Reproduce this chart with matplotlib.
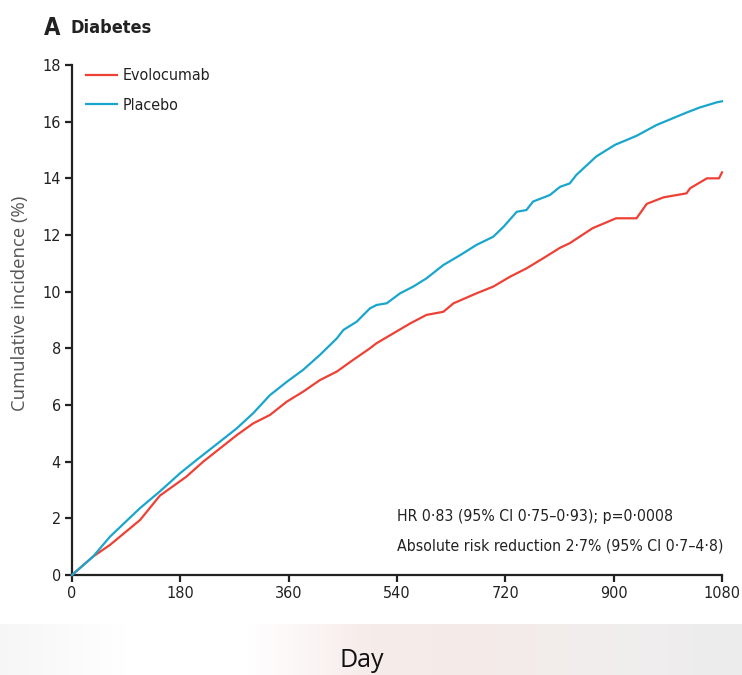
import matplotlib
matplotlib.use("Agg")
import matplotlib.pyplot as plt
import numpy as np
from matplotlib import font_manager as fm
from matplotlib.colors import LinearSegmentedColormap

# readings taken off the published curves (day, cumulative incidence %)
PLACEBO_DAY = [0, 35, 63, 113, 146, 180, 207, 246, 274, 301, 329, 357, 384,
               412, 440, 451, 473, 495, 506, 523, 545, 567, 589, 617, 645,
               672, 700, 717, 739, 755, 766, 794, 811, 827, 838, 871, 902,
               938, 971, 1021, 1043, 1071, 1080]
PLACEBO_PCT = [0, 0.65, 1.35, 2.36, 2.95, 3.6, 4.06, 4.71, 5.18, 5.71, 6.35,
               6.82, 7.24, 7.77, 8.35, 8.65, 8.94, 9.41, 9.53, 9.59, 9.94,
               10.18, 10.47, 10.94, 11.29, 11.65, 11.94, 12.29, 12.82, 12.88,
               13.18, 13.41, 13.7, 13.82, 14.12, 14.77, 15.18, 15.5, 15.88,
               16.32, 16.5, 16.68, 16.72]

EVO_DAY = [0, 35, 63, 113, 146, 190, 218, 246, 274, 301, 329, 357, 384, 412,
           440, 467, 495, 506, 534, 562, 589, 617, 634, 672, 700, 728, 755,
           783, 811, 827, 865, 904, 938, 955, 983, 1021, 1027, 1055, 1075,
           1080]
EVO_PCT = [0, 0.65, 1.06, 1.94, 2.8, 3.47, 4.0, 4.47, 4.94, 5.35, 5.65, 6.12,
           6.47, 6.88, 7.18, 7.59, 8.0, 8.18, 8.53, 8.88, 9.18, 9.29, 9.59,
           9.94, 10.18, 10.53, 10.82, 11.18, 11.55, 11.71, 12.24, 12.59,
           12.59, 13.1, 13.33, 13.47, 13.65, 14.0, 14.0, 14.21]

X_TICKS = [0, 180, 360, 540, 720, 900, 1080]
Y_TICKS = [0, 2, 4, 6, 8, 10, 12, 14, 16, 18]

# a narrow face if one happens to be installed, else plain Roboto
NARROW_NAME, NARROW_STRETCH = "Roboto", "normal"
for f in fm.fontManager.ttflist:
    if ("Narrow" in f.name or "Condensed" in f.name
            or f.stretch in ("condensed", "semi-condensed")) \
            and f.style == "normal":
        NARROW_NAME, NARROW_STRETCH = f.name, f.stretch
        break


def fp(size, weight="normal"):
    return fm.FontProperties(family=[NARROW_NAME, "DejaVu Sans"],
                             stretch=NARROW_STRETCH, weight=weight, size=size)


RED = "#ee4136"
BLUE = "#1aa6cc"
INK = "#222222"

fig = plt.figure(figsize=(7.42, 6.75), dpi=100)

# faded background strip at the bottom of the slide
bg = fig.add_axes([0, 0, 1, 51 / 675])
strip = LinearSegmentedColormap.from_list(
    "strip", ["#f6f6f6", "#ffffff", "#ffffff", "#f6ecea", "#f4ebe9",
              "#f1eeee", "#ececec"])
bg.imshow(np.linspace(0, 1, 256)[None, :], aspect="auto", cmap=strip,
          extent=[0, 1, 0, 1])
bg.set_xlim(0, 1)
bg.set_ylim(0, 1)
bg.axis("off")
bg.text(362 / 742, 0.28, "Day", ha="center", va="center", fontsize=18,
        color="#111111", family="Open Sans")

ax = fig.add_axes([72 / 742, 100 / 675, 650 / 742, 510 / 675])
ax.plot(EVO_DAY, EVO_PCT, color=RED, lw=1.6, label="Evolocumab",
        clip_on=False, zorder=3)
ax.plot(PLACEBO_DAY, PLACEBO_PCT, color=BLUE, lw=1.6, label="Placebo",
        clip_on=False, zorder=3)

ax.set_xlim(0, 1080)
ax.set_ylim(0, 18)
ax.set_xticks(X_TICKS)
ax.set_yticks(Y_TICKS)
for s in ("top", "right"):
    ax.spines[s].set_visible(False)
for s in ("left", "bottom"):
    ax.spines[s].set_linewidth(1.6)
    ax.spines[s].set_color(INK)
ax.tick_params(direction="out", length=5, width=1.6, color=INK,
               labelcolor=INK, pad=3)
for lab in ax.get_xticklabels() + ax.get_yticklabels():
    lab.set_fontproperties(fp(11.6))

ax.set_ylabel("Cumulative incidence (%)", fontsize=13.3, color="#555555",
              family="Open Sans")
ax.yaxis.set_label_coords(-0.066, 0.533)

leg = ax.legend(loc="upper left", bbox_to_anchor=(0.0, 1.022), frameon=False,
                handlelength=1.9, handletextpad=0.35, labelspacing=0.9,
                prop=fp(11.5))
for t in leg.get_texts():
    t.set_color(INK)

ax.text(0.5, 0.114, "HR 0·83 (95% CI 0·75–0·93); p=0·0008",
        transform=ax.transAxes, fontproperties=fp(11.3), color="#222222",
        va="center", ha="left")
ax.text(0.5, 0.057, "Absolute risk reduction 2·7% (95% CI 0·7–4·8)",
        transform=ax.transAxes, fontproperties=fp(11.3), color="#222222",
        va="center", ha="left")

fig.text(44 / 742, 1 - 28 / 675, "A", fontproperties=fp(17, "bold"),
         color=INK, va="center", ha="left")
fig.text(71 / 742, 1 - 28 / 675, "Diabetes", fontproperties=fp(13, "bold"),
         color=INK, va="center", ha="left")

fig.savefig("out.png", dpi=100)
